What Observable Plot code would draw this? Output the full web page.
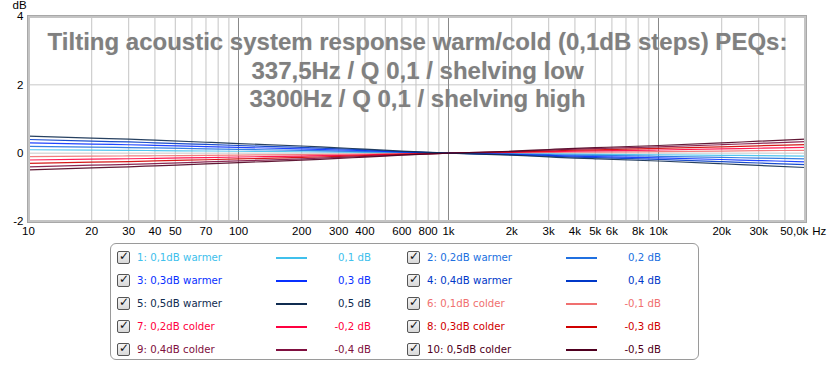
<!DOCTYPE html>
<html>
<head>
<meta charset="utf-8">
<script src="https://cdn.jsdelivr.net/npm/d3@7"></script>
<script src="https://cdn.jsdelivr.net/npm/@observablehq/plot@0.6"></script>
<style>
  body { margin: 0; background: #fff; }
  #wrap { position: relative; width: 828px; height: 368px; font-family: "Liberation Sans", Arial, sans-serif; }
  #title { position: absolute; left: 0px; width: 835px; top: 28px; text-align: center;
    font: bold 24px "Liberation Sans", Arial, sans-serif; line-height: 28.5px; color: #808080;
    text-shadow: 0 0 1px #d8d8d8; pointer-events: none; white-space: nowrap; }
  #legend { position: absolute; left: 110px; top: 243px; width: 589px; height: 117px;
    border: 1px solid #9a9a9a; border-radius: 6px; box-sizing: border-box; }
  .item { position: absolute; height: 16px; font: 10.2px "DejaVu Sans", Verdana, sans-serif; line-height: 16px; }
  .cb { position: absolute; width: 11px; height: 11px; border: 1px solid #555; border-radius: 2px;
    background: linear-gradient(#f4f4f4, #d8d8d8); top: 1px; }
  .cb span { position: absolute; left: 1px; top: -3px; font: bold 12px "DejaVu Sans", sans-serif; color: #111; }
  .lab { position: absolute; white-space: nowrap; }
  .sw { position: absolute; height: 2px; top: 7px; }
  .val { position: absolute; text-align: right; white-space: nowrap; width: 80px; }
</style>
</head>
<body>
<div id="wrap">
  <div id="chart"></div>
  <div id="title">Tilting acoustic system response warm/cold (0,1dB steps) PEQs:<br>337,5Hz / Q 0,1 / shelving low<br>3300Hz / Q 0,1 / shelving high</div>
  <div id="legend"></div>
</div>
<script>
// Frequencies (Hz) at which the curves were read
const freqs = [10, 20, 30, 40, 70, 100, 200, 300, 400, 600, 1000, 2000, 3000, 4000, 5000, 10000, 20000, 30000, 50000];

// Series values (dB)
const warm01 = [0.10, 0.088, 0.082, 0.076, 0.064, 0.056, 0.042, 0.031, 0.024, 0.012, 0, -0.012, -0.022, -0.029, -0.033, -0.046, -0.062, -0.072, -0.084];
const warm02 = [0.20, 0.176, 0.164, 0.152, 0.128, 0.112, 0.084, 0.062, 0.048, 0.024, 0, -0.024, -0.044, -0.058, -0.066, -0.092, -0.124, -0.144, -0.168];
const warm03 = [0.30, 0.264, 0.246, 0.228, 0.192, 0.168, 0.126, 0.093, 0.072, 0.036, 0, -0.036, -0.066, -0.087, -0.099, -0.138, -0.186, -0.216, -0.252];
const warm04 = [0.40, 0.352, 0.328, 0.304, 0.256, 0.224, 0.168, 0.124, 0.096, 0.048, 0, -0.048, -0.088, -0.116, -0.132, -0.184, -0.248, -0.288, -0.336];
const warm05 = [0.50, 0.44, 0.41, 0.38, 0.32, 0.28, 0.21, 0.155, 0.12, 0.06, 0, -0.06, -0.11, -0.145, -0.165, -0.23, -0.31, -0.36, -0.42];
const cold01 = [-0.10, -0.088, -0.082, -0.076, -0.064, -0.056, -0.042, -0.031, -0.024, -0.012, 0, 0.012, 0.022, 0.029, 0.033, 0.046, 0.062, 0.072, 0.084];
const cold02 = [-0.20, -0.176, -0.164, -0.152, -0.128, -0.112, -0.084, -0.062, -0.048, -0.024, 0, 0.024, 0.044, 0.058, 0.066, 0.092, 0.124, 0.144, 0.168];
const cold03 = [-0.30, -0.264, -0.246, -0.228, -0.192, -0.168, -0.126, -0.093, -0.072, -0.036, 0, 0.036, 0.066, 0.087, 0.099, 0.138, 0.186, 0.216, 0.252];
const cold04 = [-0.40, -0.352, -0.328, -0.304, -0.256, -0.224, -0.168, -0.124, -0.096, -0.048, 0, 0.048, 0.088, 0.116, 0.132, 0.184, 0.248, 0.288, 0.336];
const cold05 = [-0.49, -0.43, -0.40, -0.37, -0.315, -0.275, -0.205, -0.152, -0.118, -0.06, 0, 0.058, 0.108, 0.142, 0.162, 0.225, 0.30, 0.35, 0.41];

// Legend / series metadata in legend order 1..10
const seriesIds = [1, 2, 3, 4, 5, 6, 7, 8, 9, 10];
const seriesNames = ["0,1dB warmer", "0,2dB warmer", "0,3dB warmer", "0,4dB warmer", "0,5dB warmer",
                     "0,1dB colder", "0,2dB colder", "0,3dB colder", "0,4dB colder", "0,5dB colder"];
const seriesValueLabels = ["0,1 dB", "0,2 dB", "0,3 dB", "0,4 dB", "0,5 dB", "-0,1 dB", "-0,2 dB", "-0,3 dB", "-0,4 dB", "-0,5 dB"];
const seriesColors = ["#40c0ec", "#2070e0", "#0830ff", "#0038c8", "#102c50",
                      "#f07070", "#ff0040", "#d00000", "#801040", "#500020"];
const seriesData = [warm01, warm02, warm03, warm04, warm05, cold01, cold02, cold03, cold04, cold05];

// Axis ticks
const xLabelFreqs = [10, 20, 30, 40, 50, 70, 100, 200, 300, 400, 600, 800, 1000, 2000, 3000, 4000, 5000, 6000, 8000, 10000, 20000, 30000];
const xLabelTexts = ["10", "20", "30", "40", "50", "70", "100", "200", "300", "400", "600", "800", "1k", "2k", "3k", "4k", "5k", "6k", "8k", "10k", "20k", "30k"];
const xLastFreq = [50000];
const xLastText = ["50,0k"];
const minorGrid = [20, 30, 40, 50, 60, 70, 80, 90, 200, 300, 400, 500, 600, 700, 800, 900,
                   2000, 3000, 4000, 5000, 6000, 7000, 8000, 9000, 20000, 30000, 40000];
const majorGrid = [100, 1000, 10000];
const yTicks = [-2, 0, 2, 4];
const yGrid = [0, 2];

const rows = [];
seriesData.forEach((arr, i) => arr.forEach((v, j) => rows.push({f: freqs[j], v, s: seriesIds[i], c: seriesColors[i]})));
const drawOrder = [1, 6, 2, 7, 3, 8, 4, 9, 5, 10];
rows.sort((a, b) => drawOrder.indexOf(a.s) - drawOrder.indexOf(b.s));

const font = "11px 'Liberation Sans', Arial, sans-serif";
const chart = Plot.plot({
  width: 828,
  height: 368,
  marginLeft: 28,
  marginRight: 23,
  marginTop: 16,
  marginBottom: 147,
  style: {font, background: "transparent", color: "#000"},
  x: {type: "log", domain: [10, 50119], axis: null},
  y: {domain: [-2, 4], axis: null},
  marks: [
    Plot.ruleY(yGrid, {stroke: "#c8c8c8"}),
    Plot.ruleX(minorGrid, {stroke: "#c4c4c4"}),
    Plot.ruleX(majorGrid, {stroke: "#888"}),
    Plot.line(rows, {x: "f", y: "v", z: "s", stroke: "c", strokeWidth: 1.2, strokeOpacity: 0.9, curve: "monotone-x"}),
    Plot.frame({stroke: "#c4c4c4", strokeWidth: 3}),
    Plot.frame({stroke: "#a8a8a8", strokeWidth: 1, inset: -1}),
    Plot.text(xLabelTexts, {x: (d, i) => xLabelFreqs[i], text: d => d, frameAnchor: "bottom", dy: 13, fontSize: 11.5}),
    Plot.text(xLastText, {x: (d, i) => xLastFreq[i], text: d => d, frameAnchor: "bottom", dy: 13, textAnchor: "end", dx: 3, fontSize: 11.5}),
    Plot.text(["Hz"], {x: (d, i) => xLastFreq[i], text: d => d, frameAnchor: "bottom", dy: 13, textAnchor: "start", dx: 7, fontSize: 11.5}),
    Plot.text(yTicks, {y: d => d, text: d => String(d), frameAnchor: "left", dx: -5, textAnchor: "end", fontSize: 11.5}),
    Plot.text(["dB"], {y: () => 4, text: d => d, frameAnchor: "left", dx: -16, dy: -11, textAnchor: "start", fontSize: 11.5})
  ]
});
document.getElementById("chart").appendChild(chart);

// Legend
const legend = document.getElementById("legend");
const rowTops = [6, 29, 52, 75, 98];
seriesIds.forEach((id, i) => {
  const col = i % 2;
  const r = Math.floor(i / 2);
  const baseX = col === 0 ? 0 : 290;
  const item = document.createElement("div");
  item.className = "item";
  item.style.left = baseX + "px";
  item.style.top = rowTops[r] + "px";
  item.style.width = "290px";
  item.innerHTML =
    `<div class="cb" style="left:6px"><span>✓</span></div>` +
    `<div class="lab" style="left:26px;color:${seriesColors[i]}">${id}: ${seriesNames[i]}</div>` +
    `<div class="sw" style="left:165px;width:31px;background:${seriesColors[i]}"></div>` +
    `<div class="val" style="left:180px;color:${seriesColors[i]}">${seriesValueLabels[i]}</div>`;
  legend.appendChild(item);
});
</script>
</body>
</html>
